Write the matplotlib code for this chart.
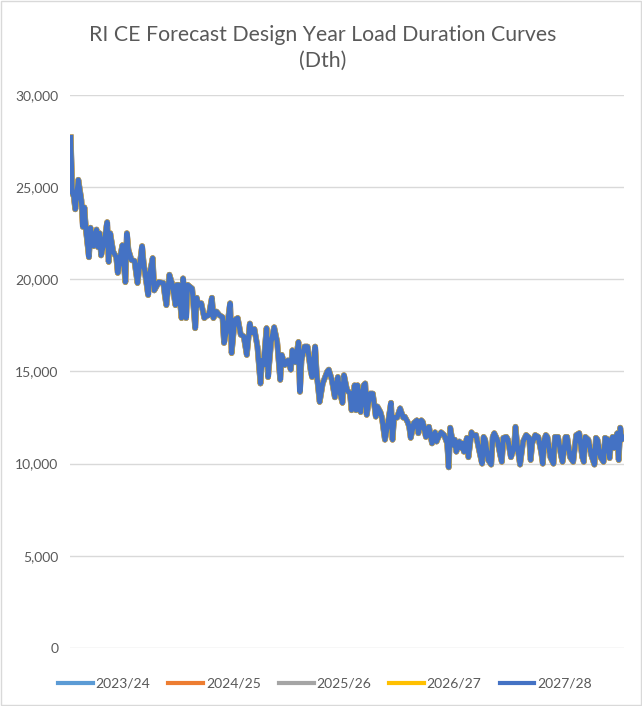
import matplotlib
matplotlib.use("Agg")
import matplotlib.pyplot as plt
from matplotlib.patches import Rectangle
from matplotlib.ticker import FuncFormatter, MultipleLocator

# Design-day load (Dth), sorted from the highest day to the lowest
day = [1, 2, 3, 4, 6, 8, 9, 10, 11, 13, 14, 16, 18, 19, 20, 21, 23, 25, 26, 27,
       29, 31, 32, 34, 35, 37, 38, 39, 41, 43, 45, 46, 48, 49, 52, 53, 55, 56, 59, 62,
       63, 64, 66, 68, 70, 71, 72, 74, 75, 77, 78, 81, 83, 84, 85, 87, 89, 91, 92, 94,
       95, 97, 99, 101, 102, 104, 106, 107, 109, 111, 113, 115, 117, 119, 120, 122, 124, 126, 127, 128,
       130, 131, 133, 135, 137, 138, 139, 140, 142, 144, 146, 147, 149, 151, 152, 153, 155, 157, 159, 160,
       162, 163, 165, 167, 170, 171, 173, 175, 177, 178, 180, 181, 183, 185, 186, 188, 189, 190, 192, 194,
       195, 196, 198, 200, 202, 203, 205, 206, 208, 210, 212, 213, 214, 216, 218, 220, 221, 223, 224, 225,
       227, 229, 230, 232, 233, 235, 236, 237, 239, 241, 242, 243, 245, 247, 249, 250, 251, 253, 254, 255,
       257, 258, 259, 260, 262, 263, 265, 266, 268, 270, 272, 273, 274, 276, 278, 279, 280, 282, 284, 285,
       286, 288, 289, 291, 293, 294, 295, 297, 299, 301, 303, 304, 305, 307, 309, 311, 312, 313, 314, 315,
       317, 319, 320, 322, 324, 325, 327, 328, 330, 332, 334, 336, 338, 339, 340, 342, 344, 346, 347, 348,
       350, 352, 353, 355, 356, 357, 358, 359, 361, 362, 363, 364, 365]

load = [27700, 24700, 24500, 23800, 25400, 24300, 22850, 23900, 22700, 21200,
        22800, 21800, 22700, 21750, 22500, 21300, 22000, 23100, 20950, 22500,
        21500, 21200, 20350, 21400, 21850, 19850, 22500, 21600, 21050, 21000,
        19800, 20500, 21800, 20900, 19150, 20300, 21150, 19400, 19850, 19800,
        19150, 18600, 20250, 19700, 18600, 19700, 19700, 17900, 20050, 17900,
        19700, 19500, 17350, 19000, 18600, 18700, 17900, 18050, 18050, 19000,
        17900, 18250, 18050, 17950, 16550, 17400, 18700, 16000, 17800, 17900,
        17000, 16900, 15900, 17600, 17100, 17300, 16350, 14350, 15600, 15350,
        17350, 14700, 16600, 17400, 16600, 15600, 14550, 15900, 15350, 15600,
        15100, 16150, 15500, 16600, 13900, 15600, 16350, 16350, 15100, 14700,
        16350, 14900, 13350, 14350, 15000, 15100, 14550, 13600, 14700, 14000,
        13300, 14800, 14000, 13800, 12900, 14250, 12900, 14250, 12800, 14250,
        14350, 12650, 13800, 13800, 12550, 13100, 12800, 12500, 11300, 12200,
        13300, 11300, 12500, 12500, 13000, 12500, 12550, 12250, 12000, 11400,
        12200, 12350, 11650, 12350, 12250, 11450, 11800, 12000, 11100, 11700,
        11200, 11400, 11700, 11550, 11100, 9800, 11950, 11000, 11300, 10650,
        11200, 10850, 11100, 10650, 11400, 10350, 11700, 11550, 11550, 10750,
        10000, 11450, 11300, 10200, 9950, 11450, 11650, 11300, 10450, 10100,
        11400, 11450, 11300, 10350, 10850, 12000, 11100, 9950, 11200, 11550,
        11400, 10200, 11100, 11550, 11450, 10600, 10000, 11300, 11550, 11450,
        10350, 10000, 11450, 11450, 10450, 10100, 11450, 11450, 10350, 10100,
        11550, 11650, 10350, 10100, 11450, 11300, 10450, 9950, 11400, 11300,
        10350, 10100, 11400, 11300, 10300, 11200, 11450, 10850, 11650, 10200,
        11950, 11300, 11400]

years = ["2023/24", "2024/25", "2025/26", "2026/27", "2027/28"]
colors = ["#5B9BD5", "#ED7D31", "#A5A5A5", "#FFC000", "#4472C4"]
# The five forecast years are practically identical on this scale
series = {y: load for y in years}

text_color = "#595959"
plt.rcParams["font.family"] = ["Lato", "DejaVu Sans"]

fig = plt.figure(figsize=(6.42, 7.06), dpi=100)
fig.patches.append(Rectangle((0.002, 0.002), 0.996, 0.996, transform=fig.transFigure,
                             fill=False, edgecolor="#D9D9D9", linewidth=1))

ax = fig.add_axes([0.109, 0.0822, 0.863, 0.7832])
widths = [4.2, 4.1, 4.0, 3.9, 3.6]
for y, c, w in zip(years, colors, widths):
    ax.plot(day, series[y], color=c, linewidth=w, label=y, solid_joinstyle="round")

ax.set_ylim(0, 30000)
ax.set_xlim(0.5, 365.5)
ax.yaxis.set_major_locator(MultipleLocator(5000))
ax.yaxis.set_major_formatter(FuncFormatter(lambda v, p: f"{int(v):,}"))
ax.set_xticks([])
ax.tick_params(axis="y", length=0, labelsize=10, colors=text_color, pad=8.5)
ax.grid(axis="y", color="#D9D9D9", linewidth=1)
ax.set_axisbelow(True)
for s in ax.spines.values():
    s.set_visible(False)

fig.text(0.503, 0.932, "RI CE Forecast Design Year Load Duration Curves\n(Dth)",
         ha="center", va="center", fontsize=15.3, color=text_color, linespacing=1.4)

leg = fig.legend(loc="center", bbox_to_anchor=(0.506, 0.032), ncol=5, frameon=False,
                 fontsize=10, labelcolor=text_color, handlelength=2.5, handletextpad=0.2,
                 columnspacing=1.3)
for h in leg.legend_handles:
    h.set_linewidth(3.0)

fig.savefig("out.png", dpi=100, facecolor="white")
